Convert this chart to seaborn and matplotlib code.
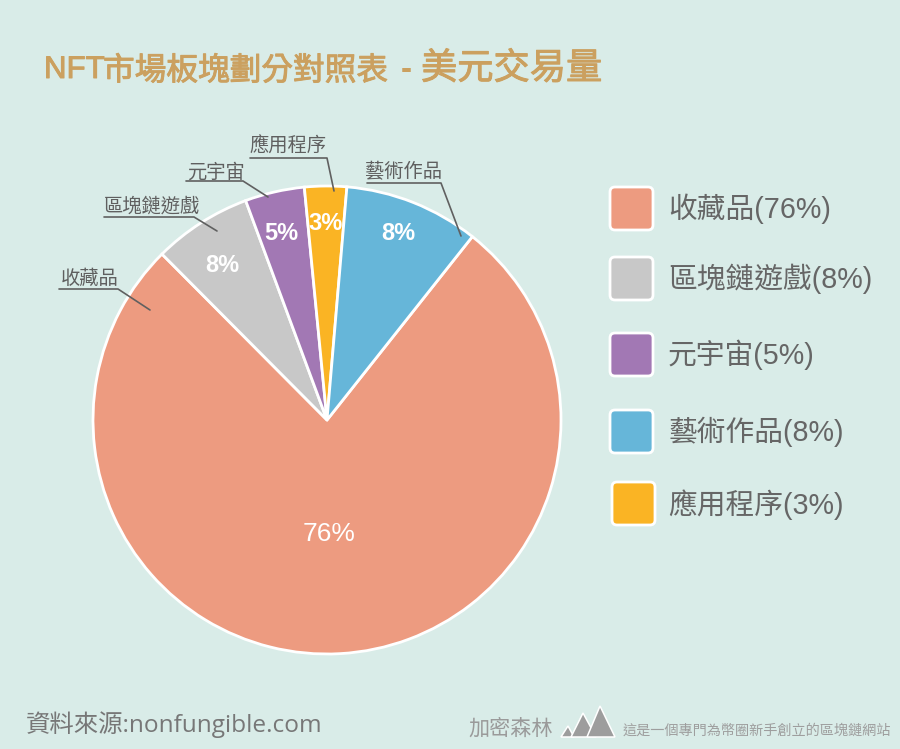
import matplotlib
matplotlib.use("Agg")
import matplotlib.pyplot as plt
from matplotlib.patches import FancyBboxPatch, Polygon
import matplotlib.patheffects as pe
import seaborn as sns

categories = ["收藏品", "區塊鏈遊戲", "元宇宙", "藝術作品", "應用程序"]
labelled_pct = [76, 8, 5, 8, 3]
# Slice shares as drawn in the picture (they differ a little from the printed labels)
drawn_share = [76.8, 6.8, 4.1, 9.3, 2.9]
colors = ["#ED9B80", "#C8C8C8", "#A278B4", "#66B6D9", "#FAB424"]

BG = "#D9ECE8"
sns.set_theme(style="white")
plt.rcParams["font.family"] = ["Liberation Sans", "Noto Sans CJK TC", "DejaVu Sans"]
CJK = ["Noto Sans CJK TC", "DejaVu Sans"]
palette = sns.color_palette(colors)

W, H = 900, 749
fig = plt.figure(figsize=(W / 100, H / 100), dpi=100, facecolor=BG)

# Pie axes: centre (327, 420) px, radius 234 px
cx, cy, r, half = 327, 420, 234, 250
ax = fig.add_axes([(cx - half) / W, 1 - (cy + half) / H, 2 * half / W, 2 * half / H])
ax.set_facecolor("none")
order = [0, 1, 2, 4, 3]
ax.pie([drawn_share[i] for i in order], colors=[palette[i] for i in order],
       startangle=51.6, counterclock=False, radius=1,
       wedgeprops=dict(edgecolor="white", linewidth=2))
ax.set_xlim(-half / r, half / r)
ax.set_ylim(-half / r, half / r)
ax.axis("off")

# Overlay in pixel coordinates for text and furniture
ov = fig.add_axes([0, 0, 1, 1], zorder=5)
ov.set_xlim(0, W)
ov.set_ylim(H, 0)
ov.axis("off")
ov.patch.set_alpha(0)

# Title, in pieces because the reference mixes sizes
TITLE = "#CBA05F"
heavy = [pe.withStroke(linewidth=0.7, foreground=TITLE)]
ov.text(44, 70, "NFT", color=TITLE, fontsize=22.5, va="center", ha="left",
        family=["Liberation Sans"], path_effects=heavy)
ov.text(103, 71, "市場板塊劃分對照表", color=TITLE, fontsize=22.8,
        va="center", ha="left", family=CJK, path_effects=heavy)
ov.text(406, 70, "-", color=TITLE, fontsize=24, fontweight="bold", va="center", ha="center",
        family=["Liberation Sans"])
ov.text(421, 69, "美元交易量", color=TITLE, fontsize=26.1,
        va="center", ha="left", family=CJK, path_effects=heavy)

# Percent labels on slices
pct_pos = [(329, 534), (222, 265), (281, 233), (398, 234), (326, 224)]
pct_size = [19, 17, 17, 17, 17]
pct_weight = ["normal", "bold", "bold", "bold", "bold"]
for v, (x, y), s, w_ in zip(labelled_pct, pct_pos, pct_size, pct_weight):
    ov.text(x, y, f"{v}%", color="white", fontsize=s, fontweight=w_, ha="center", va="center")

# Leader labels
leaders = {
    "收藏品": ((90, 278), [(59, 289), (118, 289), (150, 310)]),
    "區塊鏈遊戲": ((152, 206), [(104, 217), (194, 217), (217, 231)]),
    "元宇宙": ((216, 172), [(186, 181), (243, 181), (268, 197)]),
    "藝術作品": ((404, 172), [(367, 183), (441, 183), (461, 236)]),
    "應用程序": ((288, 146), [(250, 158), (327, 158), (334, 191)]),
}
for name in categories:
    (tx, ty), pts = leaders[name]
    ov.text(tx, ty, name, color="#5F5F5F", fontsize=13.9, ha="center", va="center", family=CJK)
    ov.plot([p[0] for p in pts], [p[1] for p in pts], color="#606060", lw=1.2)

# Legend
legend_box = [(609, 186), (609, 256), (609, 332), (609, 409), (611, 481)]
legend_y = [209, 279, 355, 432, 505]
for name, v, c, (bx, by), ty in zip(categories, labelled_pct, palette, legend_box, legend_y):
    ov.add_patch(FancyBboxPatch((bx + 4, by + 4), 37, 37, boxstyle="round,pad=3,rounding_size=5",
                                facecolor=c, edgecolor="white", lw=2))
    ov.text(668, ty, f"{name}({v}%)", color="#666666", fontsize=20.7, ha="left", va="center")

# Footer
ov.text(26, 725, "資料來源:nonfungible.com", color="#777777", fontsize=17.6, ha="left", va="center",
        family=["Open Sans", "Noto Sans CJK TC"])
ov.text(468, 729, "加密森林", color="#9A9A9A", fontsize=15.2, ha="left", va="center", family=CJK)
ov.text(623, 731, "這是一個專門為幣圈新手創立的區塊鏈網站", color="#9E9E9E", fontsize=10.2,
        ha="left", va="center", family=CJK)
for tri in ([(561, 737), (568, 726), (574, 737)],
            [(571, 737), (583, 713), (596, 737)],
            [(587, 737), (600, 706), (615, 737)]):
    ov.add_patch(Polygon(tri, closed=True, facecolor="#9D9D9D", edgecolor="white", lw=1.1))

fig.savefig("out.png", dpi=100, facecolor=BG)
